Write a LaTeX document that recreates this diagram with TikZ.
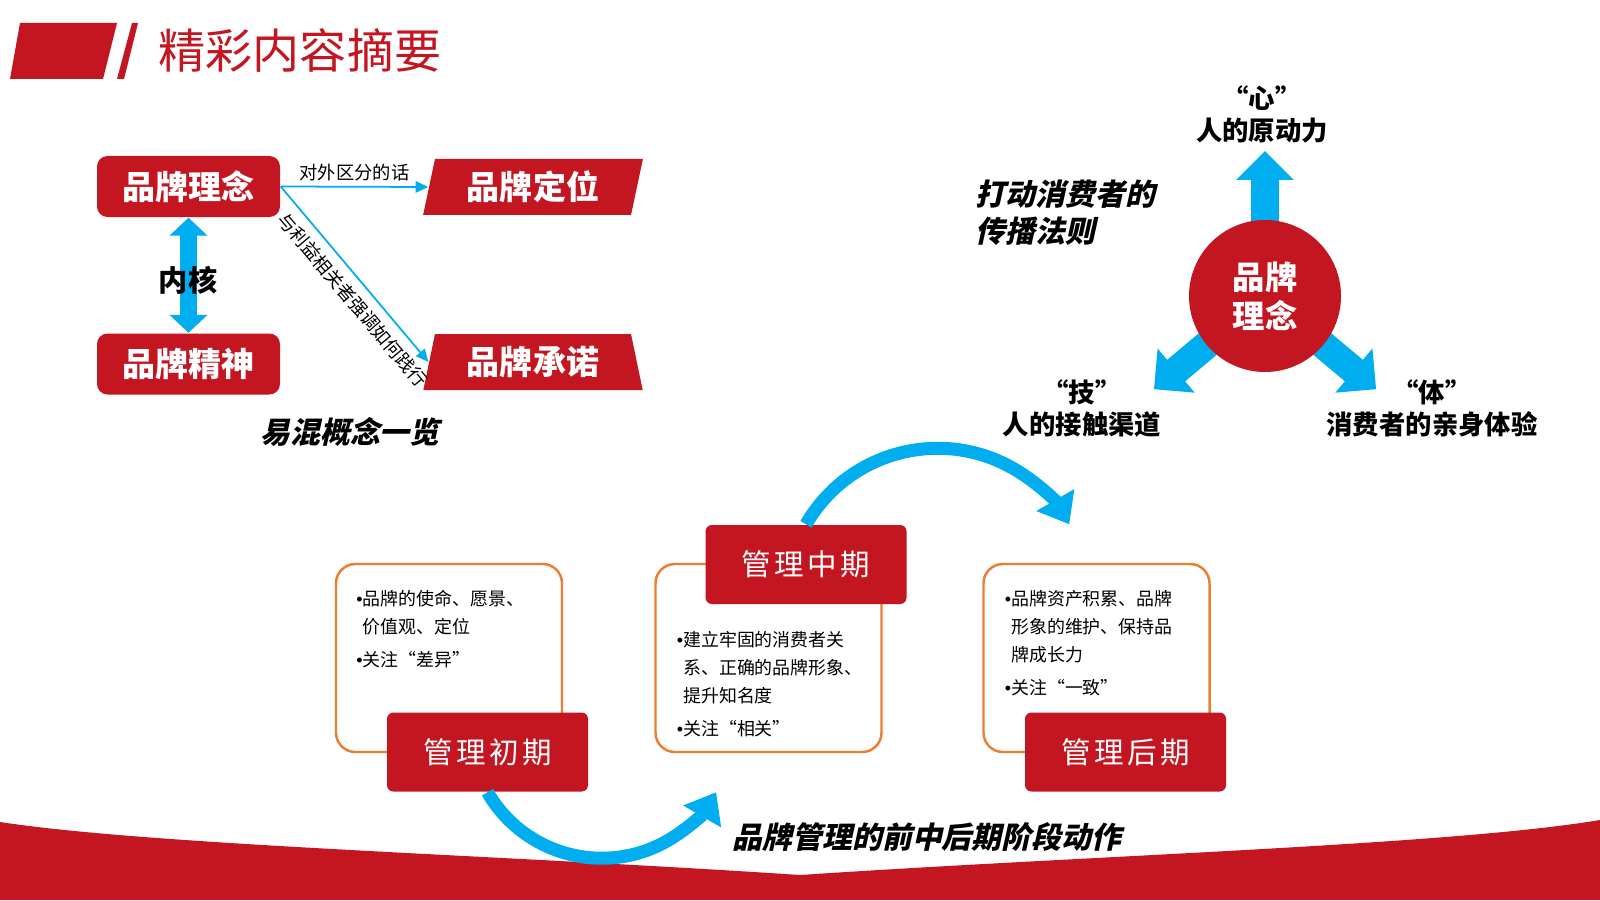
\documentclass[tikz,border=0pt]{standalone}
\usepackage{fontspec}
\setmainfont{Noto Sans CJK SC}
\newfontfamily\slantcjk{Noto Sans CJK SC}[FakeSlant=0.22]
\newfontfamily\stagecjk{Noto Sans CJK SC}[LetterSpace=12]
\newfontfamily\bulletfont{Liberation Sans}
\newcommand{\notebullet}{{\bulletfont •}}
\usetikzlibrary{arrows.meta,shapes.geometric}
\definecolor{brandred}{RGB}{196,22,32}
\definecolor{flowblue}{RGB}{0,174,239}
\definecolor{frameorange}{RGB}{237,125,49}

\begin{document}
\begin{tikzpicture}[line join=round,
  conceptbox/.style={fill=brandred, rounded corners=3pt, minimum width=1.83cm, minimum height=0.61cm,
    text=white, font=\fontsize{9.4}{11}\selectfont\bfseries},
  slantbox/.style={trapezium, trapezium stretches=true, fill=brandred, minimum width=2.2cm, minimum height=0.56cm,
    inner sep=0pt, text=white, font=\fontsize{9.4}{11}\selectfont\bfseries},
  thinarrow/.style={draw=flowblue, line width=0.5pt, -{Triangle[width=3.2pt,length=3.6pt]}},
  smalltext/.style={font=\fontsize{5.2}{6}\selectfont, inner sep=1.5pt},
  slogan/.style={font=\slantcjk\bfseries\fontsize{8.5}{10.5}\selectfont, inner sep=0pt},
  bigarrow/.style={draw=flowblue, line width=0.28cm, -{Triangle[width=0.56cm,length=0.29cm]}},
  hubcircle/.style={circle, fill=brandred, minimum size=1.52cm, inner sep=0pt, align=center,
    text=white, font=\fontsize{9.2}{11.1}\selectfont\bfseries},
  trilabel/.style={align=center, font=\fontsize{7.5}{9.1}\selectfont\bfseries},
  stageframe/.style={draw=frameorange, line width=0.7pt, rounded corners=5.5pt, minimum width=2.26cm, minimum height=1.88cm},
  stagebox/.style={fill=brandred, rounded corners=1.8pt, minimum width=2.01cm, minimum height=0.79cm,
    text=white, font=\stagecjk\fontsize{8.4}{10}\selectfont},
  notetext/.style={anchor=north west, inner sep=0pt, align=left, font=\fontsize{5.1}{8}\selectfont},
  flowarc/.style={draw=flowblue, line width=0.13cm, -{Triangle[width=0.42cm,length=0.28cm]}}]
\fill[white] (0,0) rectangle (16,9);
\useasboundingbox (0,0) rectangle (16,9);

% bottom band
\fill[brandred] (0,0) -- (0,0.78) .. controls (1.5,0.55) and (5,0.45) .. (8,0.25)
  .. controls (11,0.45) and (14.5,0.55) .. (16,0.80) -- (16,0) -- cycle;

% header
\fill[brandred] (0.10,8.21) -- (0.20,8.77) -- (1.17,8.77) -- (1.03,8.21) -- cycle;
\fill[brandred] (1.17,8.21) -- (1.32,8.77) -- (1.38,8.77) -- (1.24,8.21) -- cycle;
\node[anchor=west, inner sep=0pt, text=brandred, font=\fontsize{13.4}{15}\selectfont] (title) at (1.58,8.50) {精彩内容摘要};

% easily confused concepts
\node[conceptbox] (li) at (1.885,7.135) {品牌理念};
\node[conceptbox] (jingshen) at (1.885,5.36) {品牌精神};
\node[slantbox, trapezium left angle=76, trapezium right angle=104] (dingwei) at (5.33,7.13) {品牌定位};
\node[slantbox, trapezium left angle=76, trapezium right angle=76] (chengnuo) at (5.33,5.38) {品牌承诺};
\draw[draw=flowblue, line width=0.17cm, {Triangle[width=0.37cm,length=0.18cm]}-{Triangle[width=0.37cm,length=0.18cm]}] (li.south) -- (jingshen.north);
\node[font=\fontsize{8.3}{10}\selectfont\bfseries, inner sep=0pt] (neihe) at (1.88,6.20) {内核};
\draw[thinarrow] (li.east) -- node[above, smalltext] {对外区分的话} (dingwei.left side);
\draw[thinarrow] (li.east) -- node[sloped, below=1pt, pos=0.58, smalltext] {与利益相关者强调如何践行} (chengnuo.left side);
\node[slogan] (mix) at (3.50,4.68) {易混概念一览};

% communication rule
\coordinate (hub) at (12.65,6.04);
\foreach \a in {90,-140,-40}
  \draw[bigarrow] (hub) -- ++(\a:1.45);
\node[hubcircle] (idea) at (hub) {品牌\\理念};
\node[trilabel] (xin) at (12.62,7.86) {“心”\\人的原动力};
\node[trilabel] (ji) at (10.82,4.92) {“技”\\人的接触渠道};
\node[trilabel] (ti) at (14.32,4.92) {“体”\\消费者的亲身体验};
\node[slogan, anchor=west, align=left] (law) at (9.75,6.875) {打动消费者的\\传播法则};

% management stages
\node[stageframe] (b1) at (4.49,2.42) {};
\node[stageframe] (b2) at (7.685,2.42) {};
\node[stageframe] (b3) at (10.965,2.42) {};
\node[notetext] (t1) at ([xshift=0.21cm,yshift=-0.27cm]b1.north west)
  {\notebullet 品牌的使命、愿景、\\\hphantom{\notebullet}价值观、定位\\[1.4pt]\notebullet 关注“差异”};
\node[notetext] (t2) at ([xshift=0.22cm,yshift=-0.68cm]b2.north west)
  {\notebullet 建立牢固的消费者关\\\hphantom{\notebullet}系、正确的品牌形象、\\\hphantom{\notebullet}提升知名度\\[1.4pt]\notebullet 关注“相关”};
\node[notetext] (t3) at ([xshift=0.22cm,yshift=-0.27cm]b3.north west)
  {\notebullet 品牌资产积累、品牌\\\hphantom{\notebullet}形象的维护、保持品\\\hphantom{\notebullet}牌成长力\\[1.4pt]\notebullet 关注“一致”};
\node[stagebox] (chu) at (4.875,1.48) {管理初期};
\node[stagebox] (zhong) at (8.06,3.355) {管理中期};
\node[stagebox] (hou) at (11.255,1.48) {管理后期};
\draw[flowarc] (chu.south) arc[start angle=-150, end angle=-30, radius=1.32cm];
\draw[flowarc] (zhong.north) arc[start angle=150, end angle=30, radius=1.52cm];
\node[slogan] (stages) at (9.27,0.63) {品牌管理的前中后期阶段动作};
\end{tikzpicture}
\end{document}
